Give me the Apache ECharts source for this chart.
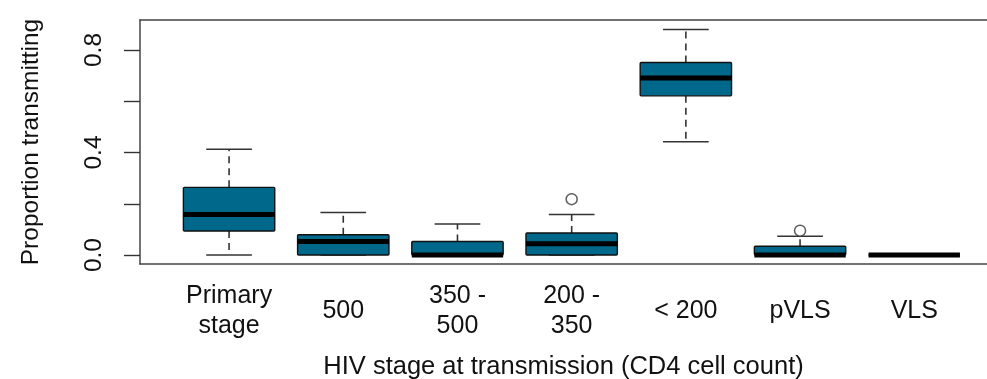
<!DOCTYPE html>
<html>
<head>
<meta charset="utf-8">
<script src="https://cdn.jsdelivr.net/npm/echarts@6/dist/echarts.min.js"></script>
<style>
html,body{margin:0;padding:0;background:#fff;}
#chart{width:987px;height:379px;}
</style>
</head>
<body>
<div id="chart"></div>
<script>
// ---- data ----
const categories = ['Primary\nstage', '500', '350 -\n500', '200 -\n350', '< 200', 'pVLS', 'VLS'];
const whiskerLow  = [0.000, 0.000, 0.000, 0.000, 0.442, 0.000, 0.000];
const q1          = [0.094, 0.000, 0.000, 0.000, 0.621, 0.000, 0.000];
const median      = [0.158, 0.053, 0.000, 0.044, 0.691, 0.000, 0.000];
const q3          = [0.264, 0.079, 0.053, 0.086, 0.751, 0.034, 0.000];
const whiskerHigh = [0.413, 0.166, 0.121, 0.158, 0.880, 0.073, 0.000];
// outliers: [category index, value]
const outliers = [[3, 0.218], [5, 0.095]];
const yTicks = [0, 0.2, 0.4, 0.6, 0.8];
const yTickLabels = [0, 0.4, 0.8];

const FONT = "'Liberation Sans', Arial, sans-serif";
const boxData = categories.map((c, i) => [i + 1, whiskerLow[i], q1[i], median[i], q3[i], whiskerHigh[i]]);
const outlierData = outliers.map(o => [o[0] + 1, o[1]]);

const chart = echarts.init(document.getElementById('chart'), null, {renderer: 'canvas'});

function renderBox(params, api) {
  const x = api.value(0);
  const lo = api.coord([x, api.value(1)]);
  const b1 = api.coord([x, api.value(2)]);
  const md = api.coord([x, api.value(3)]);
  const b3 = api.coord([x, api.value(4)]);
  const hi = api.coord([x, api.value(5)]);
  const bw = api.size([0.8, 0])[0];
  const cw = api.size([0.4, 0])[0];
  const cx = lo[0];
  const wStyle = {stroke: '#333', lineWidth: 1.6, lineDash: [7, 5]};
  const cStyle = {stroke: '#333', lineWidth: 1.6};
  return {
    type: 'group',
    children: [
      {type: 'line', shape: {x1: cx, y1: b3[1], x2: cx, y2: hi[1]}, style: wStyle},
      {type: 'line', shape: {x1: cx, y1: b1[1], x2: cx, y2: lo[1]}, style: wStyle},
      {type: 'line', shape: {x1: cx - cw / 2, y1: hi[1], x2: cx + cw / 2, y2: hi[1]}, style: cStyle},
      {type: 'line', shape: {x1: cx - cw / 2, y1: lo[1], x2: cx + cw / 2, y2: lo[1]}, style: cStyle},
      {type: 'rect', shape: {x: cx - bw / 2, y: b3[1], width: bw, height: b1[1] - b3[1], r: 1},
        style: {fill: '#00688B', stroke: '#111', lineWidth: 1.4}},
      {type: 'line', shape: {x1: cx - bw / 2, y1: md[1], x2: cx + bw / 2, y2: md[1]},
        style: {stroke: '#000', lineWidth: 5, lineCap: 'butt'}}
    ]
  };
}

const frameLine = {show: true, onZero: false, lineStyle: {color: '#444', width: 1.5}};

chart.setOption({
  animation: false,
  grid: {left: 140, top: 20, bottom: 115, right: 0, show: false, containLabel: false, outerBoundsMode: 'none'},
  xAxis: [{
    type: 'value',
    min: 0.22, max: 7.637,
    name: 'HIV stage at transmission (CD4 cell count)',
    nameLocation: 'middle',
    nameGap: 90,
    nameTextStyle: {fontFamily: FONT, fontSize: 25.5, color: '#111', verticalAlign: 'top'},
    axisLine: frameLine,
    axisTick: {show: false},
    splitLine: {show: false},
    axisLabel: {
      customValues: categories.map((c, i) => i + 1),
      formatter: v => categories[Math.round(v) - 1],
      fontFamily: FONT, fontSize: 25, color: '#111',
      lineHeight: 30, margin: 47, verticalAlign: 'middle'
    }
  }, {
    type: 'value',
    position: 'top',
    min: 0.22, max: 7.637,
    axisLine: frameLine,
    axisTick: {show: false},
    axisLabel: {show: false},
    splitLine: {show: false}
  }],
  yAxis: {
    type: 'value',
    min: -0.035, max: 0.917,
    name: 'Proportion transmitting',
    nameLocation: 'middle',
    nameGap: 96,
    nameTextStyle: {fontFamily: FONT, fontSize: 24.5, color: '#111'},
    axisLine: frameLine,
    splitLine: {show: false},
    axisTick: {show: true, customValues: yTicks, length: 16, lineStyle: {color: '#333', width: 1.4}},
    axisLabel: {
      customValues: yTickLabels,
      formatter: v => v.toFixed(1),
      rotate: 90, margin: 33,
      fontFamily: FONT, fontSize: 24.5, color: '#111'
    }
  },
  series: [
    {
      type: 'custom',
      renderItem: renderBox,
      encode: {x: 0, y: [1, 2, 3, 4, 5]},
      data: boxData,
      clip: false,
      z: 2
    },
    {
      type: 'scatter',
      data: outlierData,
      symbol: 'circle',
      symbolSize: 11,
      itemStyle: {color: '#fff', borderColor: '#333', borderWidth: 1.5},
      z: 3
    }
  ]
});
</script>
</body>
</html>
